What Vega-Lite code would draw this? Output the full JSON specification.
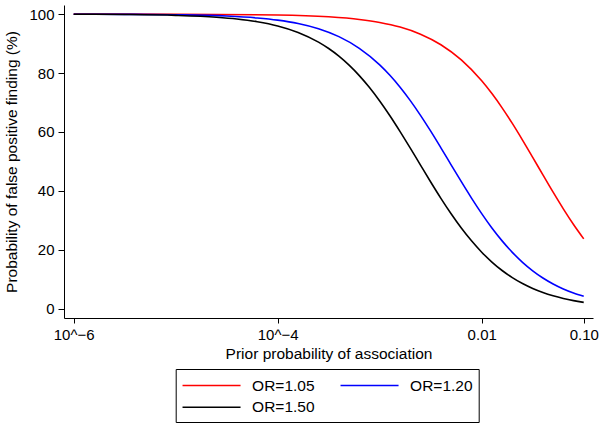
{
  "$schema": "https://vega.github.io/schema/vega-lite/v6.json",
  "width": 529,
  "height": 313,
  "autosize": "none",
  "padding": {"left": 64, "top": 5, "right": 10, "bottom": 108},
  "background": "white",
  "config": {
    "view": {"stroke": null},
    "font": "Liberation Sans",
    "axis": {
      "domainColor": "black",
      "tickColor": "black",
      "labelColor": "black",
      "titleColor": "black",
      "grid": false,
      "labelFont": "Liberation Sans",
      "titleFont": "Liberation Sans",
      "labelFontSize": 15,
      "titleFontSize": 15.5,
      "titleFontWeight": "normal"
    },
    "legend": {
      "labelFont": "Liberation Sans",
      "labelFontSize": 15.5,
      "labelColor": "black"
    }
  },
  "data": {
    "values": [
      {"p": 1e-6, "fp": 99.997, "or": "OR=1.05"},
      {"p": 1e-5, "fp": 99.97, "or": "OR=1.05"},
      {"p": 1e-4, "fp": 99.71, "or": "OR=1.05"},
      {"p": 3.162e-4, "fp": 99.09, "or": "OR=1.05"},
      {"p": 6.31e-4, "fp": 98.2, "or": "OR=1.05"},
      {"p": 1e-3, "fp": 97.18, "or": "OR=1.05"},
      {"p": 1.585e-3, "fp": 95.6, "or": "OR=1.05"},
      {"p": 2.512e-3, "fp": 93.19, "or": "OR=1.05"},
      {"p": 3.981e-3, "fp": 89.61, "or": "OR=1.05"},
      {"p": 6.31e-3, "fp": 84.45, "or": "OR=1.05"},
      {"p": 0.01, "fp": 77.34, "or": "OR=1.05"},
      {"p": 0.012589, "fp": 73.01, "or": "OR=1.05"},
      {"p": 0.015849, "fp": 68.17, "or": "OR=1.05"},
      {"p": 0.019953, "fp": 62.88, "or": "OR=1.05"},
      {"p": 0.025119, "fp": 57.23, "or": "OR=1.05"},
      {"p": 0.031623, "fp": 51.36, "or": "OR=1.05"},
      {"p": 0.039811, "fp": 45.41, "or": "OR=1.05"},
      {"p": 0.050119, "fp": 39.52, "or": "OR=1.05"},
      {"p": 0.063096, "fp": 33.86, "or": "OR=1.05"},
      {"p": 0.079433, "fp": 28.55, "or": "OR=1.05"},
      {"p": 0.1, "fp": 23.68, "or": "OR=1.05"},

      {"p": 1e-6, "fp": 99.98, "or": "OR=1.20"},
      {"p": 3.162e-6, "fp": 99.93, "or": "OR=1.20"},
      {"p": 1e-5, "fp": 99.79, "or": "OR=1.20"},
      {"p": 3.162e-5, "fp": 99.35, "or": "OR=1.20"},
      {"p": 6.31e-5, "fp": 98.7, "or": "OR=1.20"},
      {"p": 1e-4, "fp": 97.96, "or": "OR=1.20"},
      {"p": 1.585e-4, "fp": 96.81, "or": "OR=1.20"},
      {"p": 2.512e-4, "fp": 95.03, "or": "OR=1.20"},
      {"p": 3.981e-4, "fp": 92.35, "or": "OR=1.20"},
      {"p": 6.31e-4, "fp": 88.39, "or": "OR=1.20"},
      {"p": 1e-3, "fp": 82.77, "or": "OR=1.20"},
      {"p": 1.2589e-3, "fp": 79.23, "or": "OR=1.20"},
      {"p": 1.585e-3, "fp": 75.18, "or": "OR=1.20"},
      {"p": 1.9953e-3, "fp": 70.63, "or": "OR=1.20"},
      {"p": 2.512e-3, "fp": 65.63, "or": "OR=1.20"},
      {"p": 3.1623e-3, "fp": 60.25, "or": "OR=1.20"},
      {"p": 3.981e-3, "fp": 54.6, "or": "OR=1.20"},
      {"p": 5.0119e-3, "fp": 48.83, "or": "OR=1.20"},
      {"p": 6.31e-3, "fp": 43.09, "or": "OR=1.20"},
      {"p": 7.9433e-3, "fp": 37.52, "or": "OR=1.20"},
      {"p": 0.01, "fp": 32.25, "or": "OR=1.20"},
      {"p": 0.012589, "fp": 27.38, "or": "OR=1.20"},
      {"p": 0.015849, "fp": 22.99, "or": "OR=1.20"},
      {"p": 0.019953, "fp": 19.1, "or": "OR=1.20"},
      {"p": 0.025119, "fp": 15.72, "or": "OR=1.20"},
      {"p": 0.031623, "fp": 12.83, "or": "OR=1.20"},
      {"p": 0.039811, "fp": 10.39, "or": "OR=1.20"},
      {"p": 0.050119, "fp": 8.35, "or": "OR=1.20"},
      {"p": 0.063096, "fp": 6.66, "or": "OR=1.20"},
      {"p": 0.079433, "fp": 5.28, "or": "OR=1.20"},
      {"p": 0.1, "fp": 4.15, "or": "OR=1.20"},

      {"p": 1e-6, "fp": 99.96, "or": "OR=1.50"},
      {"p": 3.162e-6, "fp": 99.87, "or": "OR=1.50"},
      {"p": 1e-5, "fp": 99.58, "or": "OR=1.50"},
      {"p": 2.512e-5, "fp": 98.96, "or": "OR=1.50"},
      {"p": 3.981e-5, "fp": 98.36, "or": "OR=1.50"},
      {"p": 6.31e-5, "fp": 97.43, "or": "OR=1.50"},
      {"p": 1e-4, "fp": 95.99, "or": "OR=1.50"},
      {"p": 1.585e-4, "fp": 93.79, "or": "OR=1.50"},
      {"p": 2.512e-4, "fp": 90.5, "or": "OR=1.50"},
      {"p": 3.162e-4, "fp": 88.32, "or": "OR=1.50"},
      {"p": 3.981e-4, "fp": 85.73, "or": "OR=1.50"},
      {"p": 5.0119e-4, "fp": 82.67, "or": "OR=1.50"},
      {"p": 6.31e-4, "fp": 79.12, "or": "OR=1.50"},
      {"p": 7.9433e-4, "fp": 75.06, "or": "OR=1.50"},
      {"p": 1e-3, "fp": 70.5, "or": "OR=1.50"},
      {"p": 1.2589e-3, "fp": 65.49, "or": "OR=1.50"},
      {"p": 1.585e-3, "fp": 60.11, "or": "OR=1.50"},
      {"p": 1.9953e-3, "fp": 54.48, "or": "OR=1.50"},
      {"p": 2.512e-3, "fp": 48.72, "or": "OR=1.50"},
      {"p": 3.1623e-3, "fp": 42.99, "or": "OR=1.50"},
      {"p": 3.981e-3, "fp": 37.44, "or": "OR=1.50"},
      {"p": 5.0119e-3, "fp": 32.2, "or": "OR=1.50"},
      {"p": 6.31e-3, "fp": 27.36, "or": "OR=1.50"},
      {"p": 7.9433e-3, "fp": 23.0, "or": "OR=1.50"},
      {"p": 0.01, "fp": 19.15, "or": "OR=1.50"},
      {"p": 0.012589, "fp": 15.8, "or": "OR=1.50"},
      {"p": 0.015849, "fp": 12.93, "or": "OR=1.50"},
      {"p": 0.019953, "fp": 10.52, "or": "OR=1.50"},
      {"p": 0.025119, "fp": 8.5, "or": "OR=1.50"},
      {"p": 0.031623, "fp": 6.83, "or": "OR=1.50"},
      {"p": 0.039811, "fp": 5.46, "or": "OR=1.50"},
      {"p": 0.050119, "fp": 4.34, "or": "OR=1.50"},
      {"p": 0.063096, "fp": 3.43, "or": "OR=1.50"},
      {"p": 0.079433, "fp": 2.7, "or": "OR=1.50"},
      {"p": 0.1, "fp": 2.11, "or": "OR=1.50"}
    ]
  },
  "mark": {"type": "line", "strokeWidth": 1.6, "interpolate": "monotone", "clip": true},
  "encoding": {
    "x": {
      "field": "p",
      "type": "quantitative",
      "scale": {"type": "log", "domain": [8.04e-7, 0.1233], "nice": false},
      "axis": {
        "title": "Prior probability of association",
        "values": [1e-6, 1e-4, 0.01, 0.1],
        "labelExpr": "datum.value < 1e-5 ? '10^−6' : datum.value < 1e-3 ? '10^−4' : datum.value < 0.05 ? '0.01' : '0.10'",
        "tickSize": 5,
        "labelPadding": 4,
        "titlePadding": 4,
        "labelFlush": false,
        "labelOverlap": false
      }
    },
    "y": {
      "field": "fp",
      "type": "quantitative",
      "scale": {"domain": [-3.2, 103.1], "nice": false, "zero": false},
      "axis": {
        "title": "Probability of false positive finding (%)",
        "values": [0, 20, 40, 60, 80, 100],
        "tickSize": 6,
        "labelPadding": 4,
        "titlePadding": 9
      }
    },
    "color": {
      "field": "or",
      "type": "nominal",
      "scale": {"domain": ["OR=1.05", "OR=1.20", "OR=1.50"], "range": ["#ff0000", "#0000ff", "#000000"]},
      "legend": {
        "title": null,
        "orient": "none",
        "legendX": 111.7,
        "legendY": 364,
        "columns": 2,
        "direction": "horizontal",
        "symbolType": "M-1,0H5",
        "symbolSize": 374,
        "symbolStrokeWidth": 1.5,
        "symbolFillColor": "transparent",
        "labelOffset": 49.4,
        "columnPadding": 22,
        "rowPadding": 2.7,
        "padding": 6,
        "strokeColor": "black",
        "cornerRadius": 0
      }
    }
  }
}
